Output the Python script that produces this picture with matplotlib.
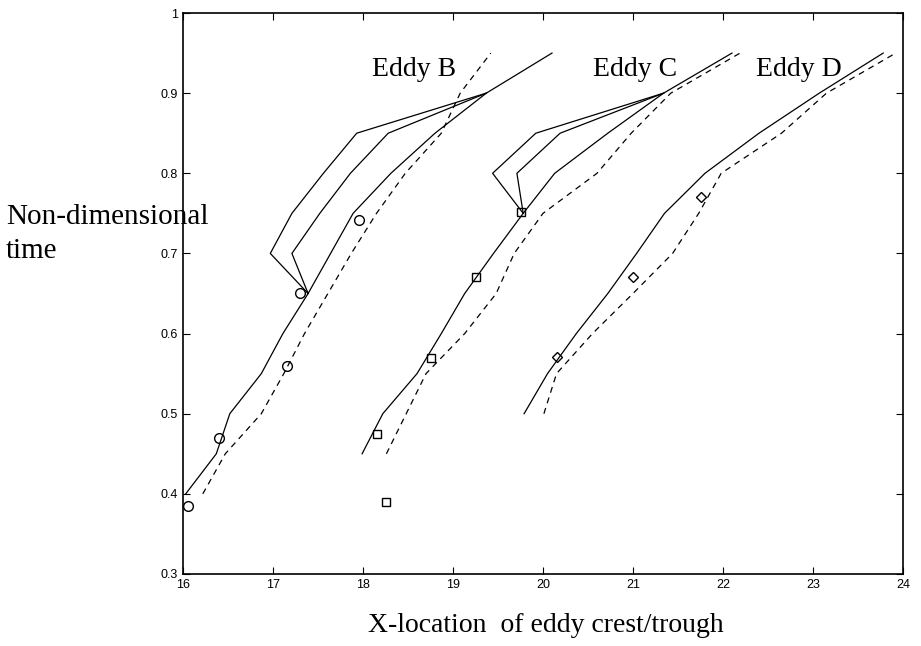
import numpy as np
import matplotlib
matplotlib.use("Agg")
from matplotlib import pyplot as plt

# eddy B
t_b = [0.40, 0.45, 0.50, 0.55, 0.60, 0.65, 0.70, 0.75, 0.80, 0.85, 0.90, 0.95]
x_b = [16.03, 16.37, 16.52, 16.87, 17.11, 17.39, 17.64, 17.89, 18.31, 18.80, 19.37, 20.10]
x_b_dash = [16.22, 16.47, 16.87, 17.12, 17.35, 17.61, 17.87, 18.15, 18.47, 18.87, 19.08, 19.42]
t_b_branch = [0.65, 0.70, 0.75, 0.80, 0.85, 0.90]
x_b_branch1 = [17.39, 16.97, 17.21, 17.56, 17.93, 19.37]
x_b_branch2 = [17.39, 17.21, 17.52, 17.86, 18.28, 19.37]

# eddy C
t_c = [0.45, 0.50, 0.55, 0.60, 0.65, 0.70, 0.75, 0.80, 0.85, 0.90, 0.95]
x_c = [17.99, 18.22, 18.60, 18.87, 19.13, 19.45, 19.78, 20.13, 20.72, 21.34, 22.10]
x_c_dash = [18.26, 18.48, 18.70, 19.13, 19.48, 19.68, 20.00, 20.60, 20.98, 21.42, 22.19]
t_c_branch = [0.75, 0.80, 0.85, 0.90]
x_c_branch1 = [19.78, 19.44, 19.92, 21.34]
x_c_branch2 = [19.78, 19.71, 20.19, 21.34]

# eddy D
t_d = [0.50, 0.55, 0.60, 0.65, 0.70, 0.75, 0.80, 0.85, 0.90, 0.95]
x_d = [19.79, 20.05, 20.37, 20.72, 21.04, 21.35, 21.80, 22.40, 23.07, 23.78]
x_d_dash = [20.01, 20.15, 20.55, 21.00, 21.44, 21.73, 21.98, 22.65, 23.15, 23.92]

# observed positions
obs_b_x = [16.05, 16.40, 17.15, 17.30, 17.95]
obs_b_t = [0.385, 0.47, 0.56, 0.651, 0.742]
obs_c_x = [18.15, 18.26, 18.75, 19.26, 19.75]
obs_c_t = [0.475, 0.39, 0.57, 0.671, 0.752]
obs_d_x = [20.16, 21.00, 21.75]
obs_d_t = [0.571, 0.671, 0.771]

labels = ["Eddy B", "Eddy C", "Eddy D"]
label_x = [18.10, 20.56, 22.37]
label_t = [0.921, 0.921, 0.921]

fig = plt.figure(figsize=(9.21, 6.46), dpi=100)
ax = fig.add_axes([183/921, 1-574/646, (903-183)/921, (574-13)/646])

lw = 0.9
dash = (4.8, 4.0)
ax.plot(x_b, t_b, 'k-', lw=lw)
ax.plot(x_b_branch1, t_b_branch, 'k-', lw=lw)
ax.plot(x_b_branch2, t_b_branch, 'k-', lw=lw)
ax.plot(x_b_dash, t_b, 'k--', lw=lw, dashes=dash)
ax.plot(x_c, t_c, 'k-', lw=lw)
ax.plot(x_c_branch1, t_c_branch, 'k-', lw=lw)
ax.plot(x_c_branch2, t_c_branch, 'k-', lw=lw)
ax.plot(x_c_dash, t_c, 'k--', lw=lw, dashes=dash)
ax.plot(x_d, t_d, 'k-', lw=lw)
ax.plot(x_d_dash, t_d, 'k--', lw=lw, dashes=dash)

ax.plot(obs_b_x, obs_b_t, 'o', ms=7, mfc='none', mec='k', mew=1.0)
ax.plot(obs_c_x, obs_c_t, 's', ms=6, mfc='none', mec='k', mew=1.0)
ax.plot(obs_d_x, obs_d_t, 'D', ms=5, mfc='none', mec='k', mew=1.0)

for lab, lx, lt in zip(labels, label_x, label_t):
    ax.text(lx, lt, lab, family='Liberation Serif', fontsize=20, ha='left', va='baseline')

ax.set_xlim(16, 24)
ax.set_ylim(0.3, 1)
ax.set_xticks([16, 17, 18, 19, 20, 21, 22, 23, 24])
ax.set_yticks([0.3, 0.4, 0.5, 0.6, 0.7, 0.8, 0.9, 1.0])
ax.set_yticklabels(["0.3", "0.4", "0.5", "0.6", "0.7", "0.8", "0.9", "1"])
ax.tick_params(direction='in', top=True, right=True, length=5, width=0.8,
               labelsize=9)
for lab in ax.get_xticklabels() + ax.get_yticklabels():
    lab.set_family('Liberation Sans')
for s in ax.spines.values():
    s.set_linewidth(1.2)

fig.text(6/921, 1-224/646, "Non-dimensional", family='Liberation Serif', fontsize=21,
         ha='left', va='baseline')
fig.text(6/921, 1-258/646, "time", family='Liberation Serif', fontsize=21,
         ha='left', va='baseline')
fig.text(368/921, 1-632/646, "X-location  of eddy crest/trough", family='Liberation Serif',
         fontsize=20, ha='left', va='baseline')

fig.savefig("out.png", dpi=100)
